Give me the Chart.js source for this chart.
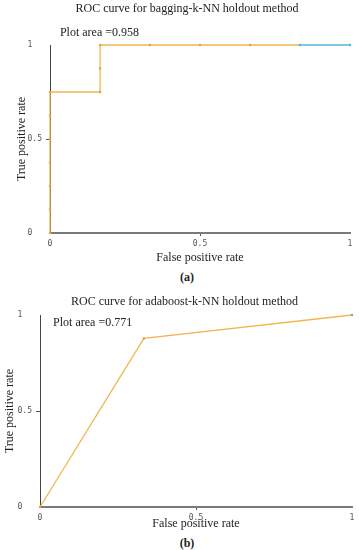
<!DOCTYPE html>
<html>
<head>
<meta charset="utf-8">
<script src="https://cdn.jsdelivr.net/npm/chart.js@4/dist/chart.umd.min.js"></script>
<style>
  html, body { margin: 0; padding: 0; background: #fff; }
  body { width: 359px; height: 550px; position: relative; overflow: hidden; }
  .box { position: absolute; left: 0; width: 359px; }
  .cap { position: absolute; left: 0; width: 374px; text-align: center;
         font: bold 12px "Liberation Serif", serif; color: #222; }
</style>
</head>
<body>
<div class="box" style="top:0;height:270px"><canvas id="rocA"></canvas></div>
<div class="cap" style="top:270px">(a)</div>
<div class="box" style="top:285px;height:248px"><canvas id="rocB"></canvas></div>
<div class="cap" style="top:536px">(b)</div>
<script>
'use strict';

// bagging-k-NN holdout
var fprA = [0, 0, 0, 0, 0, 0, 0, 0.167, 0.167, 0.167, 0.333, 0.5, 0.667, 0.833, 1];
var tprA = [0, 0.125, 0.25, 0.375, 0.5, 0.625, 0.75, 0.75, 0.875, 1, 1, 1, 1, 1, 1];
// adaboost-k-NN holdout
var fprB = [0, 0.333, 1];
var tprB = [0, 0.878, 1];
var axisTicks = [0, 0.5, 1];

var orange = '#f2b550';
var orangeDark = '#e3a443';
var blue = '#5ab4de';
var serif = '"Liberation Serif", "Times New Roman", serif';
var mono = '"DejaVu Sans Mono", monospace';

// writes "Plot area =..." next to the curve
const areaLabel = {
    id: 'areaLabel',
    afterDatasetsDraw(chart, args, opts) {
        const ctx = chart.ctx;
        ctx.save();
        ctx.font = '12px ' + serif;
        ctx.fillStyle = '#222';
        ctx.textAlign = 'left';
        ctx.textBaseline = 'middle';
        ctx.fillText(opts.text, chart.scales.x.getPixelForValue(opts.x), chart.scales.y.getPixelForValue(opts.y));
        ctx.restore();
    }
};

function makeRoc(id, fpr, tpr, o) {
    var pts = fpr.map(function (v, i) { return {x: v, y: tpr[i]}; });
    var n = pts.length;
    var config = {
        type: 'line',
        data: {
            datasets: [{
                data: pts,
                borderColor: orange,
                borderWidth: 1.3,
                tension: 0,
                clip: false,
                pointStyle: 'rect',
                pointRadius: 1.6,
                pointBorderWidth: 0,
                pointBackgroundColor: pts.map(function (p, i) { return i >= n - o.bluePoints ? blue : orangeDark; }),
                segment: {
                    borderColor: function (c) { return c.p0DataIndex >= n - 1 - o.blueSegs ? blue : orange; }
                }
            }]
        },
        options: {
            responsive: true,
            maintainAspectRatio: false,
            animation: false,
            // left padding only shifts the full-width title, y box shrinks to match
            layout: { padding: { left: o.left, right: o.right, top: 0, bottom: 0 } },
            plugins: {
                legend: { display: false },
                tooltip: { enabled: false },
                title: {
                    display: true,
                    text: o.title,
                    color: '#222',
                    font: { family: serif, size: 12, weight: 'normal' },
                    padding: o.titlePad
                },
                areaLabel: { text: o.area, x: o.areaX, y: o.areaY }
            },
            scales: {
                x: {
                    type: 'linear', min: 0, max: 1,
                    afterBuildTicks: function (s) { s.ticks = axisTicks.map(function (v) { return {value: v}; }); },
                    afterFit: function (s) { s.height = o.xH; },
                    grid: { drawOnChartArea: false, tickLength: 3,
                            color: function (c) { return c.tick && c.tick.value === 0.5 ? '#555' : 'rgba(0,0,0,0)'; } },
                    border: { color: '#7a7a7a', width: 2 },
                    ticks: { color: '#555', padding: o.xTickPad, maxRotation: 0,
                             font: { family: mono, size: 8 },
                             callback: function (v) { return String(v); } },
                    title: { display: true, text: 'False positive rate', color: '#222',
                             font: { family: serif, size: 12 }, padding: { top: 0, bottom: o.xTitlePad } }
                },
                y: {
                    min: 0, max: 1,
                    afterBuildTicks: function (s) { s.ticks = axisTicks.map(function (v) { return {value: v}; }); },
                    afterFit: function (s) { s.width = o.yW - o.left; },
                    grid: { drawOnChartArea: false, tickLength: 4,
                            color: function (c) { return c.tick && c.tick.value === 0.5 ? '#555' : 'rgba(0,0,0,0)'; } },
                    border: { color: '#444', width: 1 },
                    ticks: { color: '#555', padding: 4,
                             font: { family: mono, size: 8 },
                             callback: function (v) { return String(v).padEnd(3, ' '); } },
                    title: { display: true, text: 'True positive rate', color: '#222',
                             font: { family: serif, size: 12 }, padding: { top: o.yTitleX - o.left - 7.2, bottom: 0 } }
                }
            }
        },
        plugins: [areaLabel]
    };
    return new Chart(document.getElementById(id), config);
}

makeRoc('rocA', fprA, tprA, {
    title: 'ROC curve for bagging-k-NN holdout method',
    titlePad: { top: 1.8, bottom: 28.8 },
    area: 'Plot area =0.958', areaX: 0.033, areaY: 1.064,
    left: 24, right: 9, xH: 37, yW: 50, xTickPad: 3, xTitlePad: 4.8, yTitleX: 22,
    bluePoints: 2, blueSegs: 1
});

makeRoc('rocB', fprB, tprB, {
    title: 'ROC curve for adaboost-k-NN holdout method',
    titlePad: { top: 9.8, bottom: 5.8 },
    area: 'Plot area =0.771', areaX: 0.042, areaY: 0.96,
    left: 17, right: 7, xH: 26, yW: 40, xTickPad: 3, xTitlePad: 1.8, yTitleX: 10,
    bluePoints: 1, blueSegs: 0
});
</script>
</body>
</html>
